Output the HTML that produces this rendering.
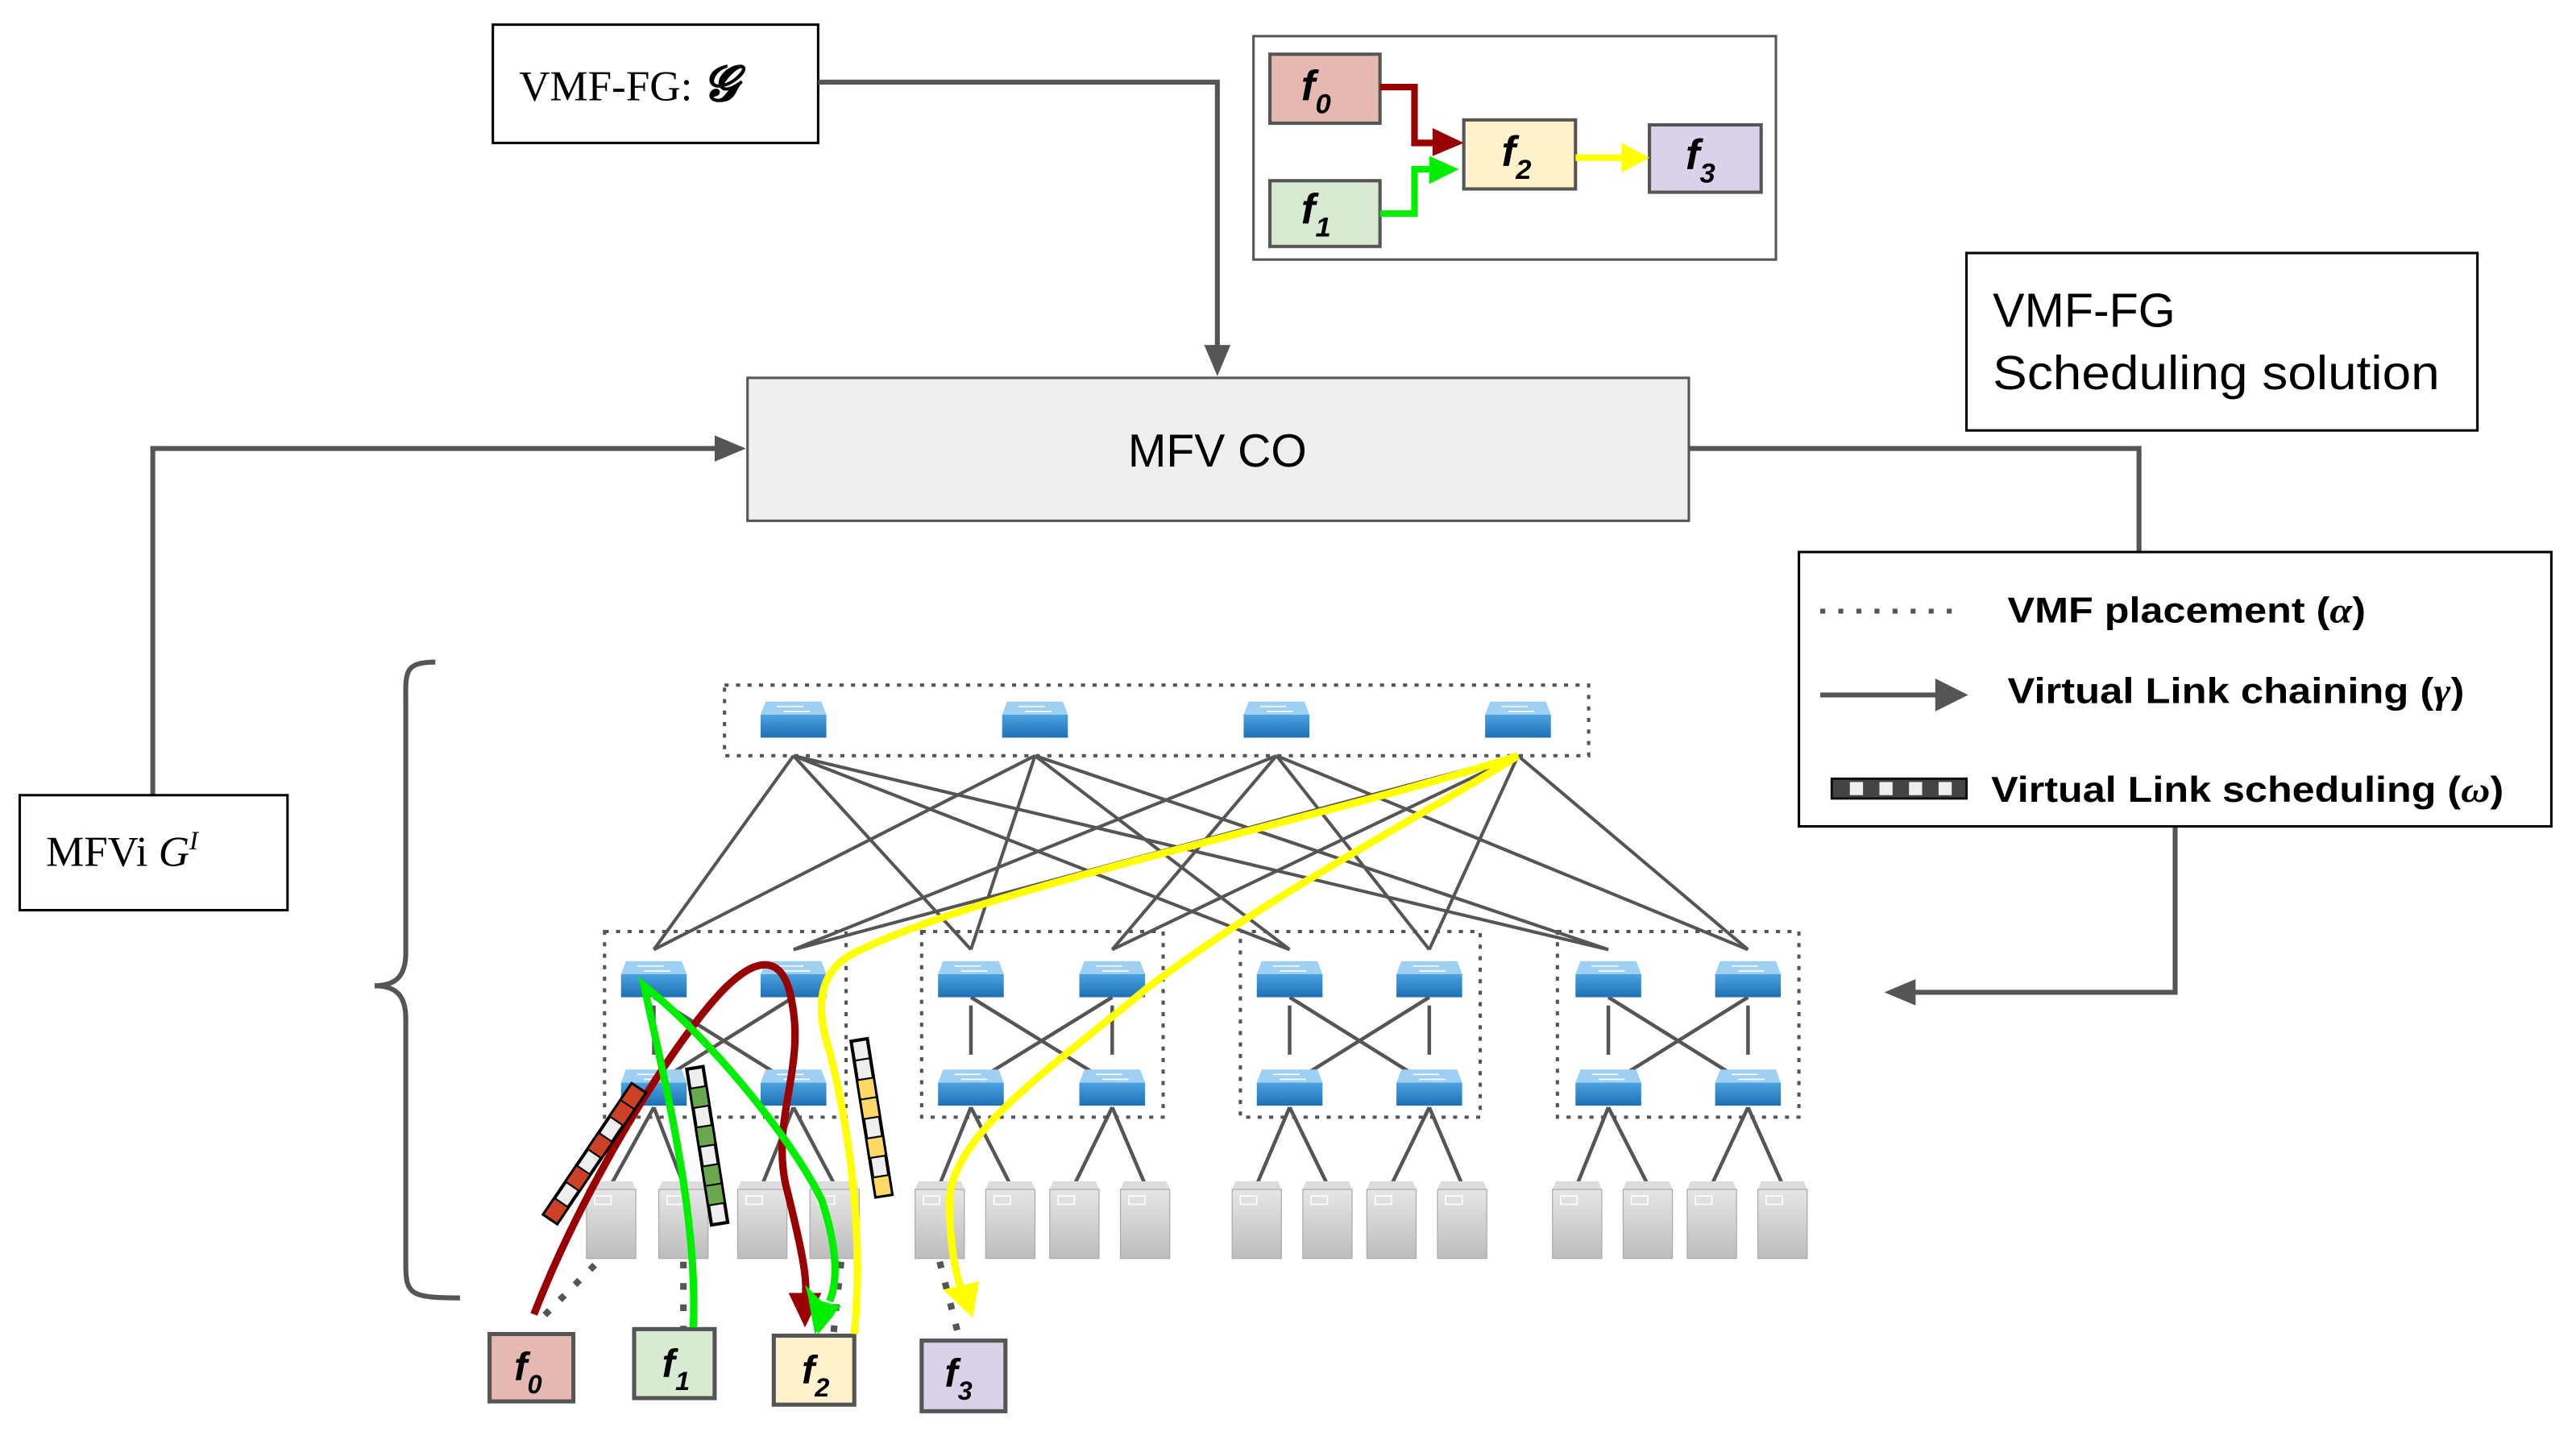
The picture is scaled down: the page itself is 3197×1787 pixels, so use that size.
<!DOCTYPE html>
<html><head><meta charset="utf-8"><style>
html,body{margin:0;padding:0;background:#fff;}
svg{display:block;}
.s{font-family:"Liberation Sans",sans-serif;}
.r{font-family:"Liberation Serif",serif;}
.f{font-family:"Liberation Sans",sans-serif;font-weight:bold;font-style:italic;}
</style></head><body>
<svg width="3197" height="1787" viewBox="0 0 1568 876.5" preserveAspectRatio="none" xmlns="http://www.w3.org/2000/svg">
<defs>
<linearGradient id="sw" x1="0" y1="0" x2="0" y2="1"><stop offset="0" stop-color="#4aa3e0"/><stop offset="1" stop-color="#1f6fb5"/></linearGradient>
<linearGradient id="sv" x1="0" y1="0" x2="0" y2="1"><stop offset="0" stop-color="#e6e6e6"/><stop offset="1" stop-color="#bdbdbd"/></linearGradient>
<g id="swi"><polygon points="-17,-11 17,-11 20,-3 -20,-3" fill="#9fd0f2"/><rect x="-20" y="-3" width="40" height="14" fill="url(#sw)"/><path d="M-10,-8h16M-6,-5h16" stroke="#fff" stroke-width="0.8"/></g>
<g id="srv"><polygon points="-13,0 13,0 15,5 -15,5" fill="#ddd"/><rect x="-15" y="5" width="30" height="42" fill="url(#sv)" stroke="#aaa" stroke-width="0.6"/><rect x="-10" y="9" width="10" height="5" fill="none" stroke="#fff" stroke-width="0.8"/></g>
</defs>

<rect x="300" y="15" width="198" height="72" fill="#fff" stroke="#000" stroke-width="1.5"/>
<text x="316" y="61" class="r" font-size="26">VMF-FG: <tspan font-style="italic" font-weight="bold" font-size="30">𝓖</tspan></text>
<rect x="763" y="22" width="318" height="136" fill="#fff" stroke="#555" stroke-width="1.5"/>
<rect x="773" y="33" width="67" height="42" fill="#e6b8b2" stroke="#555" stroke-width="2"/>
<rect x="773" y="110" width="67" height="40" fill="#d9ead3" stroke="#555" stroke-width="2"/>
<rect x="891" y="73" width="68" height="42" fill="#fff2cc" stroke="#555" stroke-width="2"/>
<rect x="1004" y="76" width="68" height="41" fill="#d9d2e9" stroke="#555" stroke-width="2"/>
<text x="792" y="61" class="f" font-size="26">f<tspan font-size="17" dy="8">0</tspan></text>
<text x="792" y="136" class="f" font-size="26">f<tspan font-size="17" dy="8">1</tspan></text>
<text x="914" y="101" class="f" font-size="26">f<tspan font-size="17" dy="8">2</tspan></text>
<text x="1026" y="103" class="f" font-size="26">f<tspan font-size="17" dy="8">3</tspan></text>
<path d="M840,53H861V87H875" fill="none" stroke="#990000" stroke-width="4"/><polygon points="872,78 891,87 872,95" fill="#990000"/>
<path d="M840,130H861V103H873" fill="none" stroke="#00ee00" stroke-width="4"/><polygon points="870,95 888,103 870,112" fill="#00ee00"/>
<path d="M959,96H990" stroke="#ffff00" stroke-width="4"/><polygon points="987,87 1004,96 987,105" fill="#ffff00"/>

<rect x="1197" y="154" width="311" height="108" fill="#fff" stroke="#000" stroke-width="1.5"/>
<text x="1213" y="199" class="s" font-size="29">VMF-FG</text>
<text x="1213" y="237" class="s" font-size="29" textLength="272" lengthAdjust="spacingAndGlyphs">Scheduling solution</text>

<rect x="455" y="230" width="573" height="87" fill="#efefef" stroke="#555" stroke-width="1.5"/>
<text x="741" y="284" class="s" font-size="28" text-anchor="middle">MFV CO</text>

<path d="M498,50H741V212" fill="none" stroke="#555" stroke-width="3"/>
<polygon points="733,210 741,229 749,210" fill="#555"/>
<path d="M93,484V273H440" fill="none" stroke="#555" stroke-width="3"/>
<polygon points="435,265 454,273 435,281" fill="#555"/>
<path d="M1028,273H1302V336" fill="none" stroke="#555" stroke-width="3"/>
<path d="M1324,503V604H1162" fill="none" stroke="#555" stroke-width="3"/>
<polygon points="1166,596 1147,604 1166,612" fill="#555"/>

<rect x="1095" y="336" width="458" height="167" fill="#fff" stroke="#000" stroke-width="1.5"/>
<line x1="1108" y1="372" x2="1190" y2="372" stroke="#555" stroke-width="3" stroke-dasharray="3,8"/>
<text x="1222" y="379" class="s" font-size="22" font-weight="bold" textLength="218" lengthAdjust="spacingAndGlyphs">VMF placement (<tspan font-family="Liberation Serif" font-style="italic">α</tspan>)</text>
<line x1="1108" y1="423" x2="1180" y2="423" stroke="#555" stroke-width="3"/>
<polygon points="1178,413 1198,423 1178,433" fill="#555"/>
<text x="1222" y="428" class="s" font-size="22" font-weight="bold" textLength="278" lengthAdjust="spacingAndGlyphs">Virtual Link chaining (<tspan font-family="Liberation Serif" font-style="italic">γ</tspan>)</text>
<rect x="1115" y="474" width="82" height="12" fill="#444" stroke="#111" stroke-width="1.5"/>
<g fill="#eee"><rect x="1126" y="476" width="8" height="8"/><rect x="1144" y="476" width="8" height="8"/><rect x="1162" y="476" width="8" height="8"/><rect x="1180" y="476" width="8" height="8"/></g>
<text x="1212" y="488" class="s" font-size="22" font-weight="bold" textLength="312" lengthAdjust="spacingAndGlyphs">Virtual Link scheduling (<tspan font-family="Liberation Serif" font-style="italic">ω</tspan>)</text>

<rect x="12" y="484" width="163" height="70" fill="#fff" stroke="#000" stroke-width="1.5"/>
<text x="28" y="527" class="r" font-size="26">MFVi  <tspan font-style="italic">G</tspan><tspan font-style="italic" font-size="16" dy="-10">I</tspan></text>

<path d="M265,403 C245,403 247,410 247,430 L247,580 C247,595 240,600 228,600 C240,600 247,605 247,620 L247,770 C247,788 250,790 280,790" fill="none" stroke="#555" stroke-width="3"/>

<g fill="none" stroke="#555" stroke-width="2" stroke-dasharray="2.5,4.5">
<rect x="441" y="417" width="526" height="43"/>
<rect x="368" y="567" width="147" height="113"/>
<rect x="561" y="567" width="147" height="113"/>
<rect x="755" y="567" width="146" height="113"/>
<rect x="948" y="567" width="147" height="113"/>
</g>
<g stroke="#555" stroke-width="2">
<path d="M483,460L398,578M483,460L591,578M483,460L785,578M483,460L979,578"/>
<path d="M630,460L398,578M630,460L591,578M630,460L785,578M630,460L979,578"/>
<path d="M777,460L483,578M777,460L677,578M777,460L870,578M777,460L1064,578"/>
<path d="M924,460L483,578M924,460L677,578M924,460L870,578M924,460L1064,578"/>
</g>
<g stroke="#555" stroke-width="2.2">
<path d="M398,612V642M483,612V642M398,607L483,660M483,607L398,660"/>
<path d="M591,612V642M677,612V642M591,607L677,660M677,607L591,660"/>
<path d="M785,612V642M870,612V642M785,607L870,660M870,607L785,660"/>
<path d="M979,612V642M1064,612V642M979,607L1064,660M1064,607L979,660"/>
<path d="M398,674L372,721M398,674L416,721M483,674L464,721M483,674L508,721"/>
<path d="M591,674L572,721M591,674L615,721M677,674L654,721M677,674L697,721"/>
<path d="M785,674L765,721M785,674L808,721M870,674L847,721M870,674L890,721"/>
<path d="M979,674L960,721M979,674L1003,721M1064,674L1042,721M1064,674L1085,721"/>
</g>
<use href="#swi" x="483" y="438"/><use href="#swi" x="630" y="438"/><use href="#swi" x="777" y="438"/><use href="#swi" x="924" y="438"/>
<g>
<use href="#swi" x="398" y="596"/><use href="#swi" x="483" y="596"/><use href="#swi" x="398" y="662"/><use href="#swi" x="483" y="662"/>
<use href="#swi" x="591" y="596"/><use href="#swi" x="677" y="596"/><use href="#swi" x="591" y="662"/><use href="#swi" x="677" y="662"/>
<use href="#swi" x="785" y="596"/><use href="#swi" x="870" y="596"/><use href="#swi" x="785" y="662"/><use href="#swi" x="870" y="662"/>
<use href="#swi" x="979" y="596"/><use href="#swi" x="1064" y="596"/><use href="#swi" x="979" y="662"/><use href="#swi" x="1064" y="662"/>
</g>
<g>
<use href="#srv" x="372" y="719"/><use href="#srv" x="416" y="719"/><use href="#srv" x="464" y="719"/><use href="#srv" x="508" y="719"/>
<use href="#srv" x="572" y="719"/><use href="#srv" x="615" y="719"/><use href="#srv" x="654" y="719"/><use href="#srv" x="697" y="719"/>
<use href="#srv" x="765" y="719"/><use href="#srv" x="808" y="719"/><use href="#srv" x="847" y="719"/><use href="#srv" x="890" y="719"/>
<use href="#srv" x="960" y="719"/><use href="#srv" x="1003" y="719"/><use href="#srv" x="1042" y="719"/><use href="#srv" x="1085" y="719"/>
</g>

<g stroke="#555" stroke-width="4" stroke-dasharray="4,9" fill="none">
<path d="M362,770L327,805"/><path d="M416,768V810"/><path d="M512,768L507,815"/><path d="M572,768L584,815"/>
</g>

<rect x="298" y="812" width="51" height="41" fill="#e6b8b2" stroke="#555" stroke-width="2.5"/>
<rect x="386" y="809" width="49" height="42" fill="#d9ead3" stroke="#555" stroke-width="2.5"/>
<rect x="471" y="813" width="49" height="42" fill="#fff2cc" stroke="#555" stroke-width="2.5"/>
<rect x="561" y="816" width="51" height="43" fill="#d9d2e9" stroke="#555" stroke-width="2.5"/>
<text x="313" y="840" class="f" font-size="24">f<tspan font-size="16" dy="8">0</tspan></text>
<text x="403" y="838" class="f" font-size="24">f<tspan font-size="16" dy="8">1</tspan></text>
<text x="488" y="842" class="f" font-size="24">f<tspan font-size="16" dy="8">2</tspan></text>
<text x="575" y="844" class="f" font-size="24">f<tspan font-size="16" dy="8">3</tspan></text>

<path d="M325,800 C360,710 420,620 445,598 C465,580 478,585 482,610 C490,650 470,680 478,720 C488,760 492,780 490,790" fill="none" stroke="#990000" stroke-width="4.5"/>
<polygon points="480,787 500,787 490,808" fill="#990000"/>
<path d="M422,808 C425,740 405,660 392,600 C430,630 480,690 500,730 C510,760 510,780 505,792" fill="none" stroke="#00ee00" stroke-width="4.5"/>
<polygon points="490,782 508,800 498,812" fill="#00ee00"/>
<polygon points="492,790 512,795 496,812" fill="#00ee00"/>
<path d="M520,812 C525,760 520,700 505,640 C495,610 500,590 520,580 C600,540 800,500 924,460" fill="none" stroke="#ffff00" stroke-width="4.5"/>
<path d="M924,460 C860,500 780,540 700,600 C640,650 580,690 578,730 C578,760 582,775 585,785" fill="none" stroke="#ffff00" stroke-width="4.5"/>
<polygon points="574,785 596,780 592,802" fill="#ffff00"/>

<g transform="translate(335,742) rotate(-56)">
<rect x="0" y="-5" width="96" height="10" fill="#eee" stroke="#000" stroke-width="2"/>
<g fill="#cc4125" stroke="#000" stroke-width="1"><rect x="0" y="-5" width="12" height="10"/><rect x="24" y="-5" width="12" height="10"/><rect x="48" y="-5" width="12" height="10"/><rect x="72" y="-5" width="12" height="10"/><rect x="84" y="-5" width="12" height="10"/></g>
<g fill="none" stroke="#000" stroke-width="1"><rect x="12" y="-5" width="12" height="10"/><rect x="36" y="-5" width="12" height="10"/><rect x="60" y="-5" width="12" height="10"/></g>
</g>
<g transform="translate(423,650) rotate(81)">
<rect x="0" y="-5" width="96" height="10" fill="#eee" stroke="#000" stroke-width="2"/>
<g fill="#6aa84f" stroke="#000" stroke-width="1"><rect x="12" y="-5" width="12" height="10"/><rect x="36" y="-5" width="12" height="10"/><rect x="60" y="-5" width="12" height="10"/><rect x="72" y="-5" width="12" height="10"/></g>
<g fill="none" stroke="#000" stroke-width="1"><rect x="0" y="-5" width="12" height="10"/><rect x="24" y="-5" width="12" height="10"/><rect x="48" y="-5" width="12" height="10"/><rect x="84" y="-5" width="12" height="10"/></g>
</g>
<g transform="translate(523,633) rotate(81)">
<rect x="0" y="-5" width="96" height="10" fill="#eee" stroke="#000" stroke-width="2"/>
<g fill="#ffd966" stroke="#000" stroke-width="1"><rect x="24" y="-5" width="12" height="10"/><rect x="36" y="-5" width="12" height="10"/><rect x="60" y="-5" width="12" height="10"/><rect x="84" y="-5" width="12" height="10"/></g>
<g fill="none" stroke="#000" stroke-width="1"><rect x="0" y="-5" width="12" height="10"/><rect x="12" y="-5" width="12" height="10"/><rect x="48" y="-5" width="12" height="10"/><rect x="72" y="-5" width="12" height="10"/></g>
</g>
</svg>
</body></html>
